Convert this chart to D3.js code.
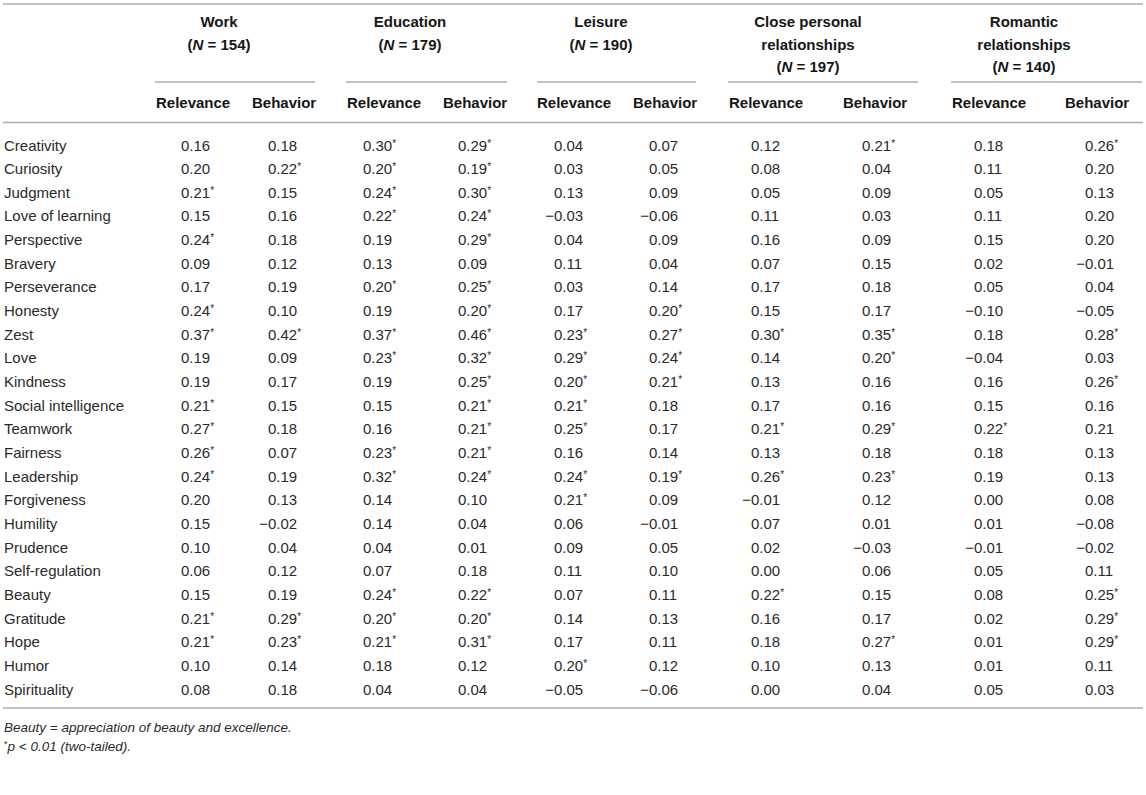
<!DOCTYPE html>
<html>
<head>
<meta charset="utf-8">
<script src="https://cdn.jsdelivr.net/npm/d3@7/dist/d3.min.js"></script>
<style>
  html, body { margin: 0; padding: 0; background: #fff; }
  svg { display: block; font-family: "Liberation Sans", Arial, Helvetica, sans-serif; }
</style>
</head>
<body>
<svg id="chart" width="1146" height="795"></svg>
<script>
// ---------- DATA ----------
const strengths = ["Creativity","Curiosity","Judgment","Love of learning","Perspective","Bravery",
  "Perseverance","Honesty","Zest","Love","Kindness","Social intelligence","Teamwork","Fairness",
  "Leadership","Forgiveness","Humility","Prudence","Self-regulation","Beauty","Gratitude","Hope",
  "Humor","Spirituality"];

const domains = ["Work","Education","Leisure","Close personal relationships","Romantic relationships"];
const domainHeaderLines = [["Work"],["Education"],["Leisure"],["Close personal","relationships"],["Romantic","relationships"]];
const domainN = [154, 179, 190, 197, 140];
const subHeaders = ["Relevance","Behavior"];

const workRelevance      = [0.16,0.20,0.21,0.15,0.24,0.09,0.17,0.24,0.37,0.19,0.19,0.21,0.27,0.26,0.24,0.20,0.15,0.10,0.06,0.15,0.21,0.21,0.10,0.08];
const workBehavior       = [0.18,0.22,0.15,0.16,0.18,0.12,0.19,0.10,0.42,0.09,0.17,0.15,0.18,0.07,0.19,0.13,-0.02,0.04,0.12,0.19,0.29,0.23,0.14,0.18];
const educationRelevance = [0.30,0.20,0.24,0.22,0.19,0.13,0.20,0.19,0.37,0.23,0.19,0.15,0.16,0.23,0.32,0.14,0.14,0.04,0.07,0.24,0.20,0.21,0.18,0.04];
const educationBehavior  = [0.29,0.19,0.30,0.24,0.29,0.09,0.25,0.20,0.46,0.32,0.25,0.21,0.21,0.21,0.24,0.10,0.04,0.01,0.18,0.22,0.20,0.31,0.12,0.04];
const leisureRelevance   = [0.04,0.03,0.13,-0.03,0.04,0.11,0.03,0.17,0.23,0.29,0.20,0.21,0.25,0.16,0.24,0.21,0.06,0.09,0.11,0.07,0.14,0.17,0.20,-0.05];
const leisureBehavior    = [0.07,0.05,0.09,-0.06,0.09,0.04,0.14,0.20,0.27,0.24,0.21,0.18,0.17,0.14,0.19,0.09,-0.01,0.05,0.10,0.11,0.13,0.11,0.12,-0.06];
const closeRelevance     = [0.12,0.08,0.05,0.11,0.16,0.07,0.17,0.15,0.30,0.14,0.13,0.17,0.21,0.13,0.26,-0.01,0.07,0.02,0.00,0.22,0.16,0.18,0.10,0.00];
const closeBehavior      = [0.21,0.04,0.09,0.03,0.09,0.15,0.18,0.17,0.35,0.20,0.16,0.16,0.29,0.18,0.23,0.12,0.01,-0.03,0.06,0.15,0.17,0.27,0.13,0.04];
const romanticRelevance  = [0.18,0.11,0.05,0.11,0.15,0.02,0.05,-0.10,0.18,-0.04,0.16,0.15,0.22,0.18,0.19,0.00,0.01,-0.01,0.05,0.08,0.02,0.01,0.01,0.05];
const romanticBehavior   = [0.26,0.20,0.13,0.20,0.20,-0.01,0.04,-0.05,0.28,0.03,0.26,0.16,0.21,0.13,0.13,0.08,-0.08,-0.02,0.11,0.25,0.29,0.29,0.11,0.03];

// significance flags (p < 0.01), 1 = marked with *
const workRelevanceSig      = [0,0,1,0,1,0,0,1,1,0,0,1,1,1,1,0,0,0,0,0,1,1,0,0];
const workBehaviorSig       = [0,1,0,0,0,0,0,0,1,0,0,0,0,0,0,0,0,0,0,0,1,1,0,0];
const educationRelevanceSig = [1,1,1,1,0,0,1,0,1,1,0,0,0,1,1,0,0,0,0,1,1,1,0,0];
const educationBehaviorSig  = [1,1,1,1,1,0,1,1,1,1,1,1,1,1,1,0,0,0,0,1,1,1,0,0];
const leisureRelevanceSig   = [0,0,0,0,0,0,0,0,1,1,1,1,1,0,1,1,0,0,0,0,0,0,1,0];
const leisureBehaviorSig    = [0,0,0,0,0,0,0,1,1,1,1,0,0,0,1,0,0,0,0,0,0,0,0,0];
const closeRelevanceSig     = [0,0,0,0,0,0,0,0,1,0,0,0,1,0,1,0,0,0,0,1,0,0,0,0];
const closeBehaviorSig      = [1,0,0,0,0,0,0,0,1,1,0,0,1,0,1,0,0,0,0,0,0,1,0,0];
const romanticRelevanceSig  = [0,0,0,0,0,0,0,0,0,0,0,0,1,0,0,0,0,0,0,0,0,0,0,0];
const romanticBehaviorSig   = [1,0,0,0,0,0,0,0,1,0,1,0,0,0,0,0,0,0,0,1,1,1,0,0];

const footnotes = ["Beauty = appreciation of beauty and excellence.", "p < 0.01 (two-tailed)."];

// ---------- BUILD ----------
const columns = [
  {key:"workRel", v:workRelevance, s:workRelevanceSig},
  {key:"workBeh", v:workBehavior, s:workBehaviorSig},
  {key:"eduRel", v:educationRelevance, s:educationRelevanceSig},
  {key:"eduBeh", v:educationBehavior, s:educationBehaviorSig},
  {key:"leiRel", v:leisureRelevance, s:leisureRelevanceSig},
  {key:"leiBeh", v:leisureBehavior, s:leisureBehaviorSig},
  {key:"cloRel", v:closeRelevance, s:closeRelevanceSig},
  {key:"cloBeh", v:closeBehavior, s:closeBehaviorSig},
  {key:"romRel", v:romanticRelevance, s:romanticRelevanceSig},
  {key:"romBeh", v:romanticBehavior, s:romanticBehaviorSig}
];

const svg = d3.select("#chart");
const W = 1146;

// layout scales
const y = d3.scalePoint().domain(strengths).range([145, 689]);
const xNum = d3.scaleOrdinal().domain(columns.map(c => c.key))
  .range([181, 268, 363, 458, 554, 649, 751, 862, 974, 1085]);
const xSubStart = d3.scaleOrdinal().domain(d3.range(10))
  .range([156, 252, 347, 443, 537, 633, 729, 843, 952, 1065]);
const groupLine = d3.scaleOrdinal().domain(domains)
  .range([[155,315],[346,507],[537,696],[728,918],[951,1142]]);
const groupCenter = d3.scaleOrdinal().domain(domains).range([219, 410, 601, 808, 1024]);

const bodyColor = "#2a2a2a";
const headColor = "#161616";
const ruleColor = "#adadad";
const fs = 15;
const fmt = d3.format(".2f");

svg.append("rect").attr("width", W).attr("height", 795).attr("fill", "#fff");

// horizontal rules
[4, 122.5, 708].forEach(yy => {
  svg.append("line").attr("x1", 3).attr("x2", 1143).attr("y1", yy).attr("y2", yy)
    .attr("stroke", ruleColor).attr("stroke-width", 1.6);
});
domains.forEach(d => {
  const [a, b] = groupLine(d);
  svg.append("line").attr("x1", a).attr("x2", b).attr("y1", 82).attr("y2", 82)
    .attr("stroke", ruleColor).attr("stroke-width", 1.6);
});

// group headers
domains.forEach((d, i) => {
  const lines = domainHeaderLines[i];
  const g = svg.append("g").attr("fill", headColor).attr("font-weight", "bold")
    .attr("font-size", fs).attr("text-anchor", "middle");
  lines.forEach((t, j) => {
    g.append("text").attr("x", groupCenter(d)).attr("y", 27 + j * 22.5).text(t);
  });
  const nt = g.append("text").attr("x", groupCenter(d)).attr("y", 27 + lines.length * 22.5);
  nt.append("tspan").text("(");
  nt.append("tspan").attr("font-style", "italic").text("N");
  nt.append("tspan").text(" = " + domainN[i] + ")");
});

// sub headers
d3.range(10).forEach(i => {
  svg.append("text").attr("x", xSubStart(i)).attr("y", 107.5)
    .attr("font-size", fs).attr("font-weight", "bold").attr("fill", headColor)
    .text(subHeaders[i % 2]);
});

// row labels
svg.append("g").selectAll("text").data(strengths).join("text")
  .attr("x", 4).attr("y", d => y(d) + 5.5)
  .attr("font-size", fs).attr("fill", bodyColor)
  .text(d => d);

// cells
columns.forEach(col => {
  const g = svg.append("g").attr("font-size", fs).attr("fill", bodyColor);
  col.v.forEach((val, i) => {
    const yy = y(strengths[i]) + 5.5;
    const x = xNum(col.key);
    const t = g.append("text").attr("x", x).attr("y", yy);
    t.append("tspan").text(fmt(Math.abs(val)));
    if (col.s[i]) t.append("tspan").attr("font-size", 10).attr("dy", -4).text("*");
    if (val < 0) {
      g.append("text").attr("x", x).attr("y", yy).attr("text-anchor", "end").text("\u2212");
    }
  });
});

// footnotes
const f1 = svg.append("text").attr("x", 4).attr("y", 732).attr("font-size", 13.5)
  .attr("font-style", "italic").attr("fill", bodyColor).text(footnotes[0]);
const f2 = svg.append("text").attr("x", 4).attr("y", 751).attr("font-size", 13.5)
  .attr("font-style", "italic").attr("fill", bodyColor);
f2.append("tspan").attr("font-size", 9).attr("dy", -4).attr("font-style", "normal").text("*");
f2.append("tspan").attr("dy", 4).text(footnotes[1]);
</script>
</body>
</html>
